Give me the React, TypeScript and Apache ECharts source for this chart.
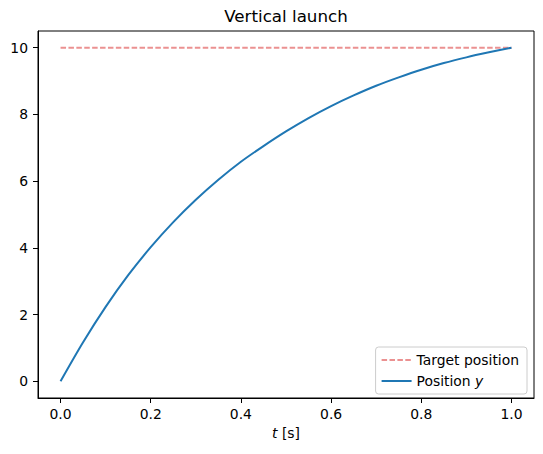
import React, { useEffect, useRef } from "react";
import * as echarts from "echarts";

const timeValues = [0, 0.05, 0.1, 0.15, 0.2, 0.25, 0.3, 0.35, 0.4, 0.45, 0.5, 0.55, 0.6, 0.65, 0.7, 0.75, 0.8, 0.85, 0.9, 0.95, 1.0];
const positionValues = [0, 1.17, 2.23, 3.18, 4.02, 4.77, 5.44, 6.04, 6.58, 7.05, 7.49, 7.89, 8.25, 8.57, 8.86, 9.11, 9.34, 9.54, 9.71, 9.86, 10.0];
const targetTimes = [0, 1.0];
const targetValue = 10;
const xTicks = [0, 0.2, 0.4, 0.6, 0.8, 1.0];
const yTicks = [0, 2, 4, 6, 8, 10];

const FONT = "DejaVu Sans";

export default function App() {
  const ref = useRef<HTMLDivElement>(null);
  useEffect(() => {
    if (!ref.current) return;
    const chart = echarts.init(ref.current, null, { renderer: "svg" });
    const curve = timeValues.map((t, i) => [t, positionValues[i]]);
    const target = targetTimes.map((t) => [t, targetValue]);
    chart.setOption({
      animation: false,
      backgroundColor: "#ffffff",
      title: {
        text: "Vertical launch",
        left: 286,
        top: 7,
        padding: 0,
        textAlign: "center",
        textStyle: { fontFamily: FONT, fontSize: 16.7, fontWeight: "normal", color: "#000" },
      },
      grid: {
        left: 38,
        right: 9,
        top: 31,
        bottom: 56,
        show: true,
        borderColor: "#000",
        borderWidth: 1,
        backgroundColor: "transparent",
        containLabel: false,
        outerBoundsMode: "none",
      },
      legend: {
        orient: "vertical",
        right: 16,
        bottom: 60,
        backgroundColor: "rgba(255,255,255,0.8)",
        borderColor: "#cccccc",
        borderWidth: 1,
        borderRadius: 3,
        padding: [6, 8, 6, 5],
        itemWidth: 30,
        itemHeight: 14,
        itemGap: 7,
        itemStyle: { opacity: 0 },
        data: ["Target position", "Position y"],
        formatter: (name: string) => (name === "Position y" ? "Position {i|y}" : name),
        textStyle: {
          fontFamily: FONT,
          fontSize: 13.9,
          color: "#000",
          rich: { i: { fontFamily: FONT, fontSize: 13.9, fontStyle: "italic", color: "#000" } },
        },
      },
      xAxis: {
        type: "value",
        min: -0.05,
        max: 1.05,
        name: "{i|t} [s]",
        nameLocation: "middle",
        nameGap: 28,
        nameTextStyle: {
          fontFamily: FONT,
          fontSize: 13.9,
          color: "#000",
          rich: { i: { fontFamily: FONT, fontSize: 13.9, fontStyle: "italic", color: "#000" } },
        },
        splitLine: { show: false },
        axisLine: { show: true, onZero: false, lineStyle: { color: "#000", width: 1 } },
        axisTick: { show: true, inside: false, length: 5, customValues: xTicks, lineStyle: { color: "#000" } },
        axisLabel: {
          customValues: xTicks,
          margin: 9,
          fontFamily: FONT,
          fontSize: 13.9,
          color: "#000",
          formatter: (v: number) => v.toFixed(1),
        },
      },
      yAxis: {
        type: "value",
        min: -0.5,
        max: 10.5,
        splitLine: { show: false },
        axisLine: { show: true, onZero: false, lineStyle: { color: "#000", width: 1 } },
        axisTick: { show: true, inside: false, length: 5, customValues: yTicks, lineStyle: { color: "#000" } },
        axisLabel: {
          customValues: yTicks,
          margin: 10,
          fontFamily: FONT,
          fontSize: 13.9,
          color: "#000",
          formatter: (v: number) => String(Math.round(v)),
        },
      },
      series: [
        {
          name: "Target position",
          type: "line",
          data: target,
          showSymbol: false,
          symbol: "none",
          lineStyle: { color: "#eb9191", width: 2, type: [5.5, 2.4] },
          itemStyle: { color: "#eb9191" },
          z: 2,
        },
        {
          name: "Position y",
          type: "line",
          data: curve,
          showSymbol: false,
          symbol: "none",
          smooth: 0.3,
          lineStyle: { color: "#1f77b4", width: 2 },
          itemStyle: { color: "#1f77b4" },
          z: 3,
        },
      ],
    });
    return () => chart.dispose();
  }, []);
  return <div ref={ref} style={{ width: 543, height: 454, position: "absolute", left: 0, top: 0 }} />;
}
